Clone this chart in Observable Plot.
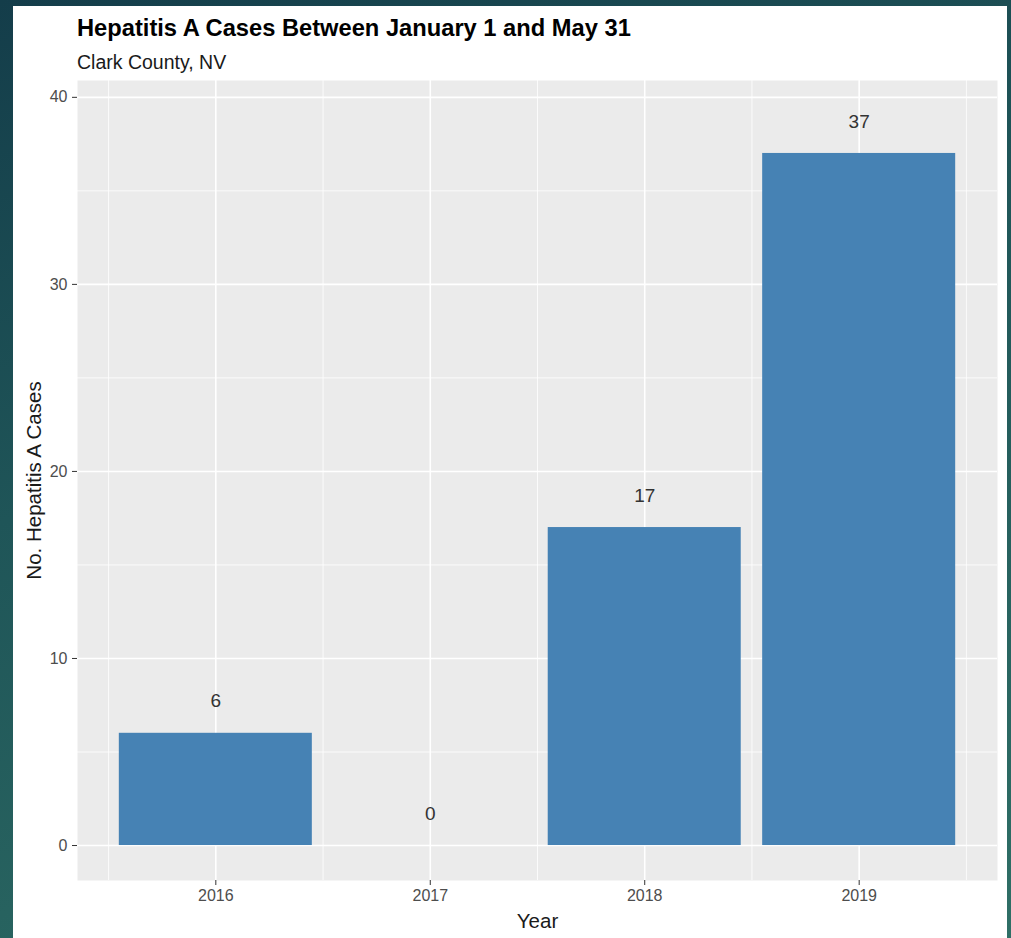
<!DOCTYPE html>
<html>
<head>
<meta charset="utf-8">
<script src="https://cdn.jsdelivr.net/npm/d3@7"></script>
<script src="https://cdn.jsdelivr.net/npm/@observablehq/plot@0.6"></script>
<style>
  html, body { margin: 0; padding: 0; }
  body {
    width: 1011px; height: 938px; overflow: hidden; position: relative;
    background: linear-gradient(160deg, #143d4a 0%, #1f5558 40%, #2f6f66 100%);
    font-family: "Liberation Sans", Arial, sans-serif;
  }
  #card {
    position: absolute; left: 13px; top: 6px; width: 994px; height: 940px;
    background: #ffffff;
  }
  #title {
    position: absolute; left: 64px; top: 11px; font-size: 23.7px; line-height: 1; font-weight: bold;
    color: #000; white-space: nowrap;
  }
  #subtitle {
    position: absolute; left: 64px; top: 47px; font-size: 19.5px; line-height: 1; color: #1a1a1a;
    white-space: nowrap;
  }
  #chart { position: absolute; left: 0; top: 70px; }
</style>
</head>
<body>
<div id="card">
  <div id="title">Hepatitis A Cases Between January 1 and May 31</div>
  <div id="subtitle">Clark County, NV</div>
  <div id="chart"></div>
</div>
<script>
const years = [2016, 2017, 2018, 2019];
const cases = [6, 0, 17, 37];
const yMajorTicks = [0, 10, 20, 30, 40];
const yMinorTicks = [5, 15, 25, 35];
const xMinorTicks = [2015.5, 2016.5, 2017.5, 2018.5, 2019.5];

const data = years.map((y, i) => ({year: y, cases: cases[i]}));
const barData = data.filter(d => d.cases > 0);

const chart = Plot.plot({
  width: 994,
  height: 862,
  marginLeft: 64,
  marginRight: 10,
  marginTop: 4,
  marginBottom: 58,
  style: {fontFamily: "'Liberation Sans', Arial, sans-serif", background: "transparent", overflow: "visible"},
  x: {domain: [2015.355, 2019.645], label: null},
  y: {domain: [-1.87, 40.9], label: null},
  marks: [
    Plot.frame({fill: "#ebebeb", stroke: null}),
    Plot.ruleY(yMinorTicks, {stroke: "#ffffff", strokeWidth: 0.8}),
    Plot.ruleX(xMinorTicks, {stroke: "#ffffff", strokeWidth: 0.8}),
    Plot.ruleY(yMajorTicks, {stroke: "#ffffff", strokeWidth: 1.6}),
    Plot.ruleX(years, {stroke: "#ffffff", strokeWidth: 1.6}),
    Plot.rectY(barData, {
      x1: d => d.year - 0.45, x2: d => d.year + 0.45,
      y1: 0, y2: "cases", fill: "#4682b4"
    }),
    Plot.text(data, {
      x: "year", y: "cases", text: d => String(d.cases), dy: -32,
      fill: "#333333", fontSize: 19, lineAnchor: "middle"
    }),
    Plot.axisY(yMajorTicks, {
      tickSize: 5, tickPadding: 5, fontSize: 16, color: "#4d4d4d",
      stroke: "#333333", label: null, tickFormat: d => String(d)
    }),
    Plot.axisX(years, {
      tickSize: 5, tickPadding: 4, fontSize: 16, color: "#4d4d4d",
      stroke: "#333333", label: null, tickFormat: d => String(d)
    }),
    Plot.text(["Year"], {
      frameAnchor: "bottom", dy: 41, lineAnchor: "middle", fontSize: 20.5, fill: "#1a1a1a"
    }),
    Plot.text(["No. Hepatitis A Cases"], {
      frameAnchor: "left", dx: -43, rotate: -90, textAnchor: "middle", lineAnchor: "middle",
      fontSize: 20.5, fill: "#1a1a1a"
    })
  ]
});
document.getElementById("chart").appendChild(chart);
</script>
</body>
</html>
